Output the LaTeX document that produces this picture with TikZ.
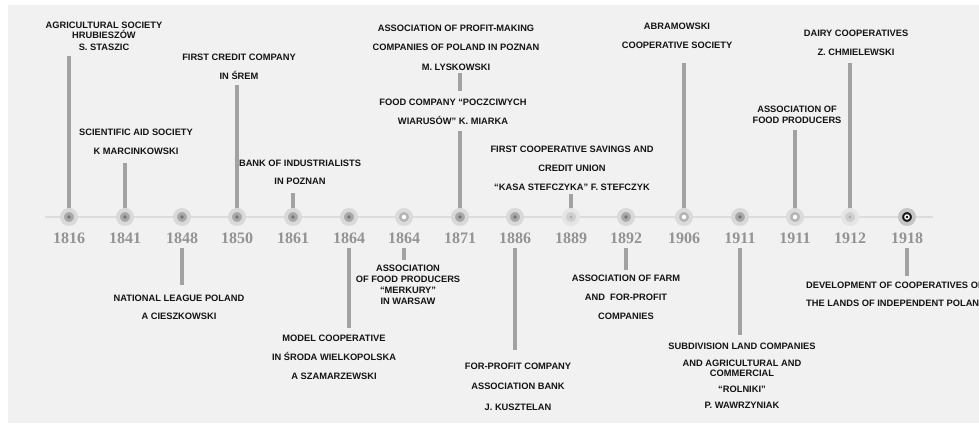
\documentclass[tikz,border=0pt]{standalone}
\usepackage{fontspec}
\setmainfont{Liberation Sans}
\newfontfamily\yearserif{Liberation Serif}
\definecolor{bgc}{HTML}{F1F1F1}
\definecolor{labelc}{HTML}{141414}
\definecolor{yearc}{HTML}{939393}
\definecolor{connc}{HTML}{A2A2A2}
\definecolor{axisc}{HTML}{DCDCDC}
\newcommand\lblfont{\fontsize{9.3}{11}\selectfont\bfseries}
\newcommand\yrfont{\fontsize{16}{18}\selectfont\yearserif\bfseries}
\tikzset{
  lbl/.style={font=\lblfont, text=labelc, align=center, inner sep=0pt, anchor=north},
  yr/.style={font=\yrfont, text=yearc, inner sep=0pt},
  conn/.style={draw=connc, line width=3.5pt},
  axisline/.style={draw=axisc, line width=2pt},
  dotbase/.style={circle, inner sep=0pt, minimum size=14pt, line width=4pt},
  dotA/.style={dotbase, fill=gray!68, draw=gray!30,
    path picture={\fill[gray!90!black] (path picture bounding box.center) circle (1.8pt);}},
  dotB/.style={dotbase, fill=gray!58, draw=gray!28,
    path picture={\fill[white] (path picture bounding box.center) circle (2.2pt);}},
  dotC/.style={dotbase, fill=gray!38, draw=gray!20,
    path picture={\fill[gray!62] (path picture bounding box.center) circle (1.6pt);}},
  dotD/.style={dotbase, fill=black!90, draw=gray!45,
    path picture={\fill[white] (path picture bounding box.center) circle (2.8pt);
                  \fill[black] (path picture bounding box.center) circle (1.3pt);}},
}
\begin{document}
\begin{tikzpicture}[x=1pt, y=-1pt]
\useasboundingbox (0,0) rectangle (979,423);
\clip (0,0) rectangle (979,423);
\fill[white] (0,0) rectangle (979,423);
\fill[bgc] (8,5) rectangle (979,423);

% axis
\coordinate (axL) at (45,217);
\coordinate (axR) at (933,217);
\draw[axisline] (axL) -- (axR);

% dots (positions) and years
\foreach \n/\x/\yy in {1/69/1816, 2/125/1841, 3/182/1848, 4/237/1850, 5/293/1861,
  6/349/1864, 7/404/1864, 8/460/1871, 9/515/1886, 10/571/1889, 11/626/1892,
  12/684/1906, 13/740/1911, 14/795/1911, 15/850/1912, 16/907/1918}{
  \coordinate (p\n) at (\x,217);
  \node[yr] (y\n) at (\x,238) {\yy};
}

% labels above
\node[lbl] (L1) at (104,21.7) {AGRICULTURAL SOCIETY\\[-0.5pt]HRUBIESZÓW\\[1pt]S. STASZIC};
\node[lbl] (L2) at (136,128.7) {SCIENTIFIC AID SOCIETY\\[8pt]K MARCINKOWSKI};
\node[lbl] (L3) at (239,53.7) {FIRST CREDIT COMPANY\\[8pt]IN ŚREM};
\node[lbl] (L4) at (300,159.7) {BANK OF INDUSTRIALISTS\\[7pt]IN POZNAN};
\node[lbl] (L5a) at (456,24.7) {ASSOCIATION OF PROFIT-MAKING\\[8pt]COMPANIES OF POLAND IN POZNAN\\[9pt]M. LYSKOWSKI};
\node[lbl] (L5b) at (453,98.7) {FOOD COMPANY “POCZCIWYCH\\[8pt]WIARUSÓW” K. MIARKA};
\node[lbl] (L6) at (572,145.7) {FIRST COOPERATIVE SAVINGS AND\\[8pt]CREDIT UNION\\[8pt]“KASA STEFCZYKA” F. STEFCZYK};
\node[lbl] (L7) at (677,22.7) {ABRAMOWSKI\\[8pt]COOPERATIVE SOCIETY};
\node[lbl] (L8) at (797,105.7) {ASSOCIATION OF\\FOOD PRODUCERS};
\node[lbl] (L9) at (856,29.7) {DAIRY COOPERATIVES\\[8pt]Z. CHMIELEWSKI};

% labels below
\node[lbl] (B1) at (179,294.7) {NATIONAL LEAGUE POLAND\\[7pt]A CIESZKOWSKI};
\node[lbl] (B2) at (334,334.7) {MODEL COOPERATIVE\\[8pt]IN ŚRODA WIELKOPOLSKA\\[8pt]A SZAMARZEWSKI};
\node[lbl] (B3) at (408,264.7) {ASSOCIATION\\OF FOOD PRODUCERS\\“MERKURY”\\IN WARSAW};
\node[lbl] (B4) at (518,362.7) {FOR-PROFIT COMPANY\\[9pt]ASSOCIATION BANK\\[10pt]J. KUSZTELAN};
\node[lbl] (B5) at (626,274.7) {ASSOCIATION OF FARM\\[8pt]AND\ \ FOR-PROFIT\\[8pt]COMPANIES};
\node[lbl] (B6) at (742,342.7) {SUBDIVISION LAND COMPANIES\\[6pt]AND AGRICULTURAL AND\\[-1pt]COMMERCIAL\\[5pt]“ROLNIKI”\\[5pt]P. WAWRZYNIAK};
\node[lbl, align=left] (B7) at (896,281.7) {DEVELOPMENT OF COOPERATIVES ON\\[7pt]THE LANDS OF INDEPENDENT POLAND};

% connectors above
\draw[conn, shorten >=5pt] (p1) -- (p1 |- L1.south);
\draw[conn, shorten >=8pt] (p2) -- (p2 |- L2.south);
\draw[conn, shorten >=5pt] (p4) -- (p4 |- L3.south);
\draw[conn, shorten >=8pt] (p5) -- (p5 |- L4.south);
\draw[conn, shorten >=6pt] (p8) -- (p8 |- L5b.south);
\draw[conn, shorten <=2.7pt, shorten >=7.7pt] (p8 |- L5a.south) -- (p8 |- L5b.north);
\draw[conn, shorten >=3pt] (p10) -- (p10 |- L6.south);
\draw[conn, shorten >=14pt] (p12) -- (p12 |- L7.south);
\draw[conn, shorten >=6pt] (p14) -- (p14 |- L8.south);
\draw[conn, shorten >=7pt] (p15) -- (p15 |- L9.south);

% connectors below
\draw[conn, shorten <=4.5pt, shorten >=10pt] (y3.south) -- (y3.south |- B1.north);
\draw[conn, shorten <=4.5pt, shorten >=7pt] (y6.south) -- (y6.south |- B2.north);
\draw[conn, shorten <=4.5pt, shorten >=5pt] (y7.south) -- (y7.south |- B3.north);
\draw[conn, shorten <=4.5pt, shorten >=13pt] (y9.south) -- (y9.south |- B4.north);
\draw[conn, shorten <=4.5pt, shorten >=5pt] (y11.south) -- (y11.south |- B5.north);
\draw[conn, shorten <=4.5pt, shorten >=8pt] (y13.south) -- (y13.south |- B6.north);
\draw[conn, shorten <=4.5pt, shorten >=6pt] (y16.south) -- (y16.south |- B7.north);

% dots
\foreach \n/\s in {1/dotA, 2/dotA, 3/dotA, 4/dotA, 5/dotA, 6/dotA, 7/dotB, 8/dotA,
  9/dotA, 10/dotC, 11/dotA, 12/dotB, 13/dotA, 14/dotB, 15/dotC, 16/dotD}{
  \node[\s] (d\n) at (p\n) {};
}
\end{tikzpicture}
\end{document}
